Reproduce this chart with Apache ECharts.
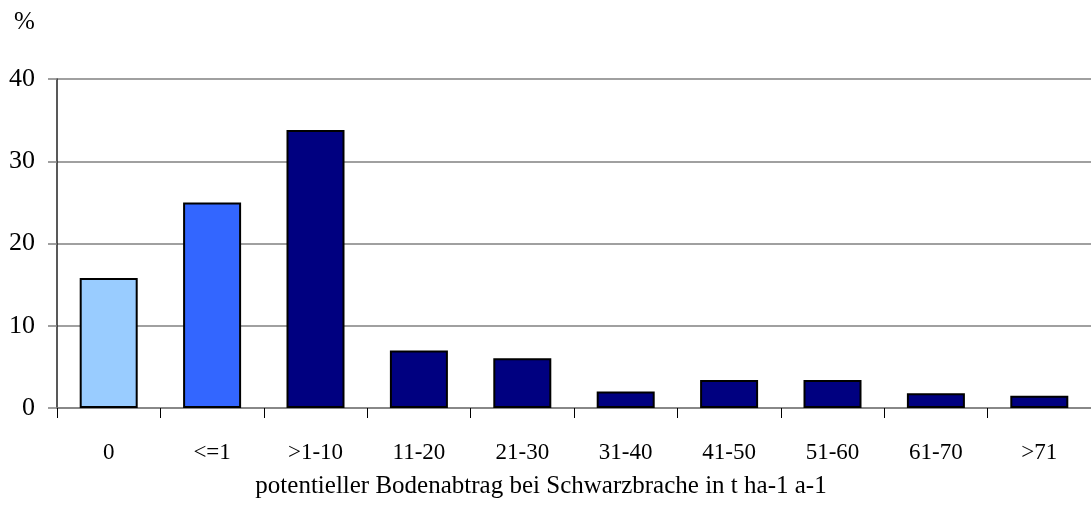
<!DOCTYPE html>
<html>
<head>
<meta charset="utf-8">
<script src="https://cdn.jsdelivr.net/npm/echarts@6/dist/echarts.min.js"></script>
<style>
  html, body { margin: 0; padding: 0; background: #fff; }
  #chart { width: 1091px; height: 520px; }
</style>
</head>
<body>
<div id="chart"></div>
<script>
// Kategorien und Werte (%)
const categories = ['0', '<=1', '>1-10', '11-20', '21-30', '31-40', '41-50', '51-60', '61-70', '>71'];
const values = [15.8, 25.0, 33.8, 7.0, 6.05, 2.0, 3.4, 3.4, 1.8, 1.5];
const barColors = ['#99ccff', '#3366ff', '#000080', '#000080', '#000080', '#000080', '#000080', '#000080', '#000080', '#000080'];
const yTicks = [0, 10, 20, 30, 40];

const font = '"Liberation Serif", "Times New Roman", serif';
const chart = echarts.init(document.getElementById('chart'));

const option = {
  backgroundColor: '#fff',
  animation: false,
  title: {
    text: 'potentieller Bodenabtrag bei Schwarzbrache in t ha-1 a-1',
    left: 536,
    top: 469,
    textAlign: 'center',
    textStyle: { fontFamily: font, fontSize: 25, fontWeight: 'normal', color: '#000' }
  },
  graphic: [{
    type: 'text',
    left: 14,
    top: 10,
    style: { text: '%', fontFamily: font, fontSize: 25, fill: '#000' }
  }],
  grid: { left: 57, top: 79, width: 1043, height: 329 },
  xAxis: {
    type: 'category',
    data: categories,
    axisLine: { lineStyle: { color: '#808080', width: 1.5 } },
    axisTick: { show: true, alignWithLabel: false, length: 10, lineStyle: { color: '#000' } },
    axisLabel: { margin: 33, fontFamily: font, fontSize: 23, color: '#000' },
    splitLine: { show: false }
  },
  yAxis: {
    type: 'value',
    min: yTicks[0],
    max: yTicks[yTicks.length - 1],
    interval: 10,
    axisLine: { show: true, lineStyle: { color: '#222', width: 1.5 } },
    axisTick: { show: true, length: 9, lineStyle: { color: '#808080', width: 1.5 } },
    axisLabel: { margin: 22, fontFamily: font, fontSize: 26, color: '#000' },
    splitLine: { show: true, lineStyle: { color: '#808080', width: 1.5 } }
  },
  series: [{
    type: 'bar',
    barWidth: 58,
    data: values.map((v, i) => ({
      value: v,
      itemStyle: { color: barColors[i] }
    })),
    itemStyle: { borderColor: '#000', borderWidth: 2 }
  }]
};

chart.setOption(option);
</script>
</body>
</html>
